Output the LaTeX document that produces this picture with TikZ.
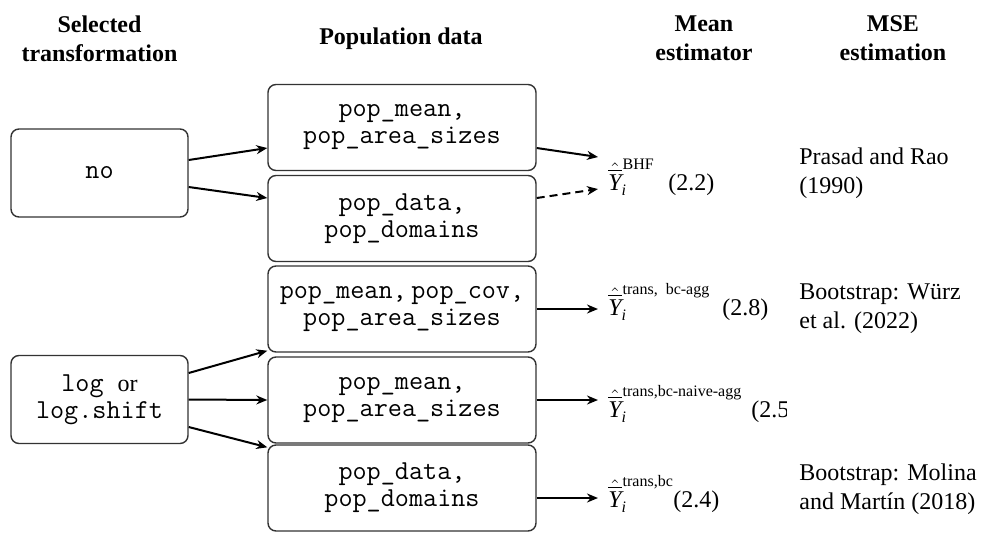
\documentclass[tikz,border=0pt]{standalone}
\usepackage{amsmath}
\usepackage{fontspec}
\setmainfont{Liberation Serif}
\usetikzlibrary{arrows.meta,calc}
\definecolor{boxline}{gray}{0.2}
% estimator symbol: hat over bar over Y, subscript i, text superscript
\newcommand\estY[1]{$\hat{\overline{\mathit{Y}}}_{\mathit{i}}^{\mkern1mu\text{#1}}$}
% serif word inside a typewriter box
\newcommand\serifword[1]{{\rmfamily\fontsize{12}{13.5}\selectfont #1}}

\tikzset{
  hdr/.style={font=\fontsize{12}{14.5}\selectfont\bfseries, align=center, inner sep=0pt},
  srcbox/.style={draw=boxline, line width=0.7pt, rounded corners=4pt,
    minimum width=88.5pt, minimum height=44pt, inner sep=0pt, align=center,
    font=\ttfamily\fontsize{13.7}{13.5}\selectfont},
  databox/.style={srcbox, minimum width=134pt, minimum height=43pt},
  est/.style={anchor=base west, inner xsep=5pt, inner ysep=0pt, font=\fontsize{12}{14}\selectfont},
  eqno/.style={anchor=base west, inner sep=0pt, font=\fontsize{12}{14}\selectfont},
  mse/.style={anchor=west, align=left, inner sep=0pt, font=\fontsize{12}{14.5}\selectfont},
  arr/.style={-{Stealth[length=5.5pt,width=4.5pt,inset=1.8pt]}, line width=1pt},
  dash arr/.style={arr, dash pattern=on 4pt off 2.5pt},
}

\begin{document}
\begin{tikzpicture}[x=0.5pt,y=-0.5pt]
  \path[fill=white, use as bounding box] (0,0) rectangle (982,532);

  % column headers
  \node[hdr] (h1) at (99.5,38.5) {Selected\\transformation};
  \node[hdr] (h2) at (401,38.5) {Population data};
  \node[hdr] (h3) at (704,38.5) {Mean\\estimator};
  \node[hdr] (h4) at (893,38.5) {MSE\\estimation};

  % transformation choices
  \node[srcbox] (n0) at (99.5,173) {no};
  \node[srcbox] (lg) at (99.5,399.5) {log \serifword{or}\\log.shift};

  % required population data
  \node[databox] (b1) at (402,127.5) {pop\_mean,\\pop\_area\_sizes};
  \node[databox] (b2) at (402,218.5) {pop\_data,\\pop\_domains};
  \node[databox] (b3) at (402,309) {pop\_mean,{\rmfamily\thinspace}pop\_cov,\\pop\_area\_sizes};
  \node[databox] (b4) at (402,400) {pop\_mean,\\pop\_area\_sizes};
  \node[databox] (b5) at (402,488) {pop\_data,\\pop\_domains};

  % mean estimators and equation numbers
  \node[est] (e1) at (598,190) {\estY{BHF}};
  \node[eqno] (q1) at (668,190) {(2.2)};
  \node[est] (e3) at (598,315) {\estY{trans,\enspace bc-agg}};
  \node[eqno] (q3) at (722,315) {(2.8)};
  \node[est] (e4) at (598,417) {\estY{trans,bc-naive-agg}};
  \begin{scope}
    \clip (740,380) rectangle (786,440);
    \node[eqno] (q4) at (751,417) {(2.5)};
  \end{scope}
  \node[est] (e5) at (598,507) {\estY{trans,bc}};
  \node[eqno] (q5) at (673,507) {(2.4)};

  % MSE estimation
  \node[mse] (m1) at (799,173) {Prasad and Rao\\(1990)};
  \node[mse] (m3) at (799,309) {Bootstrap: Würz\\et al. (2022)};
  \node[mse] (m5) at (799,489.5) {Bootstrap: Molina\\and Martín (2018)};

  % transformation -> population data
  \draw[arr] ($(n0.east)+(0,-13)$) -- ($(b1.west)+(0,20.5)$);
  \draw[arr] ($(n0.east)+(0,14)$) -- ($(b2.west)+(0,-20.5)$);
  \draw[arr] ($(lg.east)+(0,-26.5)$) -- ($(b3.south west)+(0,-2)$);
  \draw[arr] (lg.east) -- (b4.west);
  \draw[arr] ($(lg.east)+(0,27.5)$) -- ($(b5.north west)+(0,3)$);

  % population data -> estimators
  \coordinate (e1top) at ($(e1.base west)+(0,-33)$);
  \coordinate (e1bot) at ($(e1.base west)+(0,-1)$);
  \draw[arr] ($(b1.east)+(0,20.5)$) -- (e1top);
  \draw[dash arr] ($(b2.east)+(0,-20.5)$) -- (e1bot);
  \draw[arr] (b3.east) -- (b3.east -| e3.west);
  \draw[arr] (b4.east) -- (b4.east -| e4.west);
  \draw[arr] ($(b5.east)+(0,10)$) coordinate (r5) -- (r5 -| e5.west);
\end{tikzpicture}
\end{document}
